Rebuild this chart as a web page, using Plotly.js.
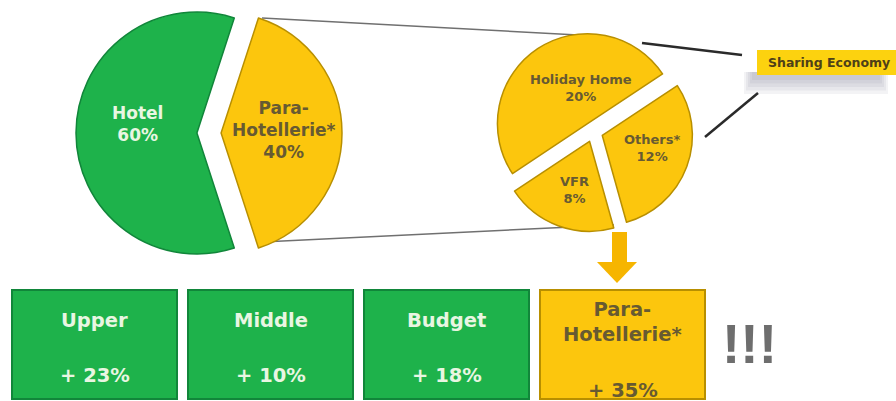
<!DOCTYPE html>
<html><head><meta charset="utf-8">
<script src="https://cdn.plot.ly/plotly-3.0.1.min.js"></script>
<style>html,body{margin:0;padding:0;background:#fff;} #chart{width:896px;height:401px;}</style>
</head><body><div id="chart"></div>
<script>
// ---- data ----
const mainLabels = ['Hotel', 'Para-<br>Hotellerie*'];
const mainValues = [60, 40];
const paraLabels = ['Holiday Home', 'Others*', 'VFR'];
const paraValues = [20, 12, 8];
const segmentLabels = ['Upper', 'Middle', 'Budget', 'Para-<br>Hotellerie*'];
const segmentGrowth = [23, 10, 18, 35];
const tagLabel = 'Sharing Economy';
const emphasis = '!!!';

// ---- layout helpers ----
const W = 896, H = 401;
const px = x => x / W, py = y => 1 - y / H;
const GREEN = '#1eb24b', GREEN_EDGE = '#11863a', YELLOW = '#fcc60d', YELLOW_EDGE = '#b88f00';
const TXT_LIGHT = '#e9f6e2', TXT_DARK = '#675a32';
const FONT = 'DejaVu Sans, Arial, sans-serif';

const traces = [
  {type:'pie', labels:mainLabels, values:mainValues, sort:false, direction:'clockwise', rotation:162,
   pull:[0.1,0.1], textinfo:'none', hoverinfo:'label+percent', showlegend:false,
   marker:{colors:[GREEN, YELLOW], line:{color:[GREEN_EDGE, YELLOW_EDGE], width:1.5}},
   domain:{x:[px(209-134), px(209+134)], y:[py(266), 1]}},
  {type:'pie', labels:paraLabels, values:paraValues, sort:false, direction:'clockwise', rotation:236.4,
   pull:0.11, textinfo:'none', hoverinfo:'label+value', showlegend:false,
   marker:{colors:paraLabels.map(()=>YELLOW), line:{color:YELLOW_EDGE, width:1.5}},
   domain:{x:[px(493), px(693)], y:[py(232), py(32)]}}
];

const shapes = [];
const line = (x0,y0,x1,y1,color,width,layer) => shapes.push({type:'line', xref:'paper', yref:'paper',
  x0:px(x0), y0:py(y0), x1:px(x1), y1:py(y1), line:{color, width}, layer:layer||'above'});
const rect = (x0,y0,x1,y1,fill,lc,lw,layer) => shapes.push({type:'rect', xref:'paper', yref:'paper',
  x0:px(x0), y0:py(y0), x1:px(x1), y1:py(y1), fillcolor:fill, line:{color:lc||fill, width:lw||0}, layer:layer||'above'});

// connectors from Para-Hotellerie slice to breakdown pie
line(262,18,578,35,'#707070',1.5,'below');
line(262,242,614,225,'#707070',1.5,'below');
// leaders to the tag
line(642,43,742,55,'#2a2a2a',2.5);
line(705,137,758,93,'#2a2a2a',2.5);
// tag shadow (soft) + box
for (let k=0;k<5;k++) rect(752-k*2, 72, 880+k*2, 80+k*3.5, 'rgba(90,90,110,0.07)');
rect(757,50,898,75,'#fcd20f');
// arrow
rect(612,232,627,262,'#f6b500');
shapes.push({type:'path', xref:'paper', yref:'paper', fillcolor:'#f6b500', line:{width:0},
  path:`M ${px(597)} ${py(262)} L ${px(637)} ${py(262)} L ${px(617)} ${py(283)} Z`});
// segment boxes
segmentLabels.forEach((l,i)=>{
  const x0 = 12 + i*176, x1 = x0 + 165;
  const isPara = i === segmentLabels.length-1;
  rect(x0, 290, x1, 399, isPara ? YELLOW : GREEN, isPara ? YELLOW_EDGE : GREEN_EDGE, 2);
});

const ann = [];
const text = (x,y,t,size,color,family) => ann.push({xref:'paper', yref:'paper', x:px(x), y:py(y), text:t,
  showarrow:false, xanchor:'center', yanchor:'middle', font:{family:family||FONT, size, color, weight:700}});

// main pie labels
const mainPos = [[137,124],[283,130]];
mainLabels.forEach((l,i)=> text(mainPos[i][0], mainPos[i][1], l+'<br>'+mainValues[i]+'%', 17, i===0?TXT_LIGHT:TXT_DARK));
// breakdown pie labels
const paraPos = [[581,88],[652,148],[574,190]];
paraLabels.forEach((l,i)=> text(paraPos[i][0], paraPos[i][1], l+'<br>'+paraValues[i]+'%', 13, TXT_DARK));
// segment box labels
segmentLabels.forEach((l,i)=>{
  const cx = 12 + i*176 + 82.5;
  const isPara = i === segmentLabels.length-1;
  const c = isPara ? TXT_DARK : TXT_LIGHT;
  text(cx, isPara ? 322 : 320, l, 19.5, c);
  text(cx, isPara ? 390 : 375, '+ ' + segmentGrowth[i] + '%', 19.5, c);
});
text(829,63,tagLabel,12.5,'#4e4018');
text(749,344,emphasis,55,'#6e6e6e','Liberation Sans, Arial, sans-serif');

Plotly.newPlot('chart', traces, {
  width:W, height:H, margin:{l:0,r:0,t:0,b:0}, paper_bgcolor:'#fff', plot_bgcolor:'#fff',
  showlegend:false, shapes, annotations:ann
}, {displayModeBar:false, staticPlot:true});
</script></body></html>
